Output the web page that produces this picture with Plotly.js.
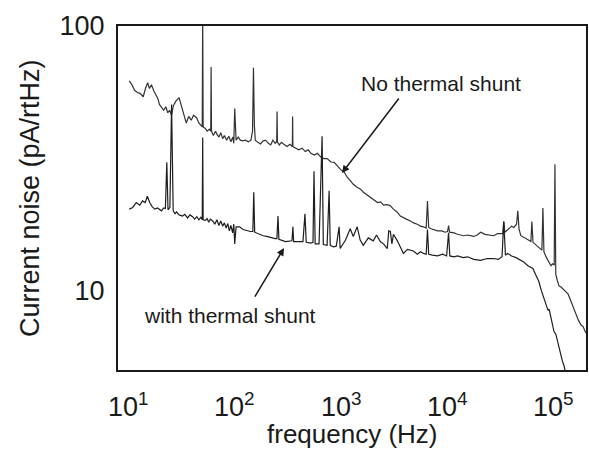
<!DOCTYPE html>
<html>
<head>
<meta charset="utf-8">
<script src="https://cdn.plot.ly/plotly-3.0.1.min.js"></script>
<style>html,body{margin:0;padding:0;background:#fff;}#chart{width:589px;height:450px;}</style>
</head>
<body>
<div id="chart"></div>
<script>
// "No thermal shunt" curve
const noShuntFreq = [10.2,10.8,11.5,12.2,13,13.8,14.5,15.2,15.8,16.5,17.3,18,19,19.6,20.5,21.5,22.5,23.5,24.5,25.5,26.5,28,30,31.5,33,35,37,39,41,43.8,46,48,49.5,50,50.5,53,55,58,59.5,60,60.5,63,66,68,71,74,77,80,84,88,92,96,98,100,101,103,108,113,119,126,134,142,147,150,153,156,165,175,184,195,207,218,228,240,248,250,252,262,275,290,310,330,348,350,352,375,400,430,460,490,520,560,600,640,690,740,800,860,930,1000,1070,1140,1220,1300,1400,1510,1620,1750,1880,2000,2200,2350,2500,2700,2900,3100,3350,3600,3850,4100,4480,4800,5200,5570,5940,6300,6475,6650,7000,7500,8050,8800,9500,10000,10220,10450,11500,12400,14150,15450,17590,19000,20480,22500,25000,27160,29500,31500,33000,33750,34500,37000,40000,42000,44500,45760,47000,48850,52000,56000,60700,62000,63500,67000,72000,77000,78700,80500,85000,89000,93700,97000,100500,102100,104000,107500,111400,116400,122000,128000,135500,144500,152000,161400,170000,179800,188000,196000,200000];
const noShuntNoise = [62,60,57,56,55.5,54,58,61,58,60,57,55,53,50.5,49,48,49.5,47,48,46,50,52,53.6,50,46,43,45.5,44,46,45,43,42,41.5,110,41.5,41,40,40.7,40,70,40,38.5,40,39,38,39.5,37.5,38.5,37,38.3,36.5,38,36,48.7,41,37,38,37,36.8,37,36.5,37,40,69.5,42,37,36.3,35.8,36.7,37,36,35.5,37,36,36.5,47.5,36.5,35.5,36.3,35.7,35,35.7,35,45.5,35,34.5,34,34.5,33.5,34,33,32.5,33,32,31.5,31.5,30.6,30.5,29.5,28.5,28,26.8,26,25.2,24.6,24.2,23.5,23,22.5,22.2,21.5,21.6,21,21.1,20.9,20.3,19.8,19.1,18.8,18.6,18.3,18,17.8,17.5,17.4,17.2,21.8,17.3,17.1,16.9,16.8,16.8,16.6,16.7,17.6,16.6,16.5,16.3,16.1,16.2,16.0,16.2,16.6,16.3,16.2,16.1,16.4,16.4,16.4,18.2,16.6,17,17.5,17.3,17.8,20,17,16.1,15.9,15.6,15.3,18.2,15.2,14.9,14.5,14.2,20.5,14.0,13.3,12.8,12.4,12.6,12.5,30,11.5,10.9,10.4,10.3,10.1,9.9,9.7,9.1,8.6,8.05,7.7,7.4,7.3,7.0,6.9];

// "with thermal shunt" curve
const shuntFreq = [10.2,11,11.9,12.8,13.6,14.4,15.1,15.9,16.8,17.8,18.8,19.6,20.5,21.5,22.3,23,23.6,24.6,25.5,26.4,27.5,28.4,30,32.3,34,36,38,40.2,42,44,46,48,49.5,50,50.5,53,55,57,59,62,65,68,71,74,77,80,83,86,89,92,95.7,98,100,103,111,120,130,140,148,151,154,170,185,200,220,240,249,255,260,280,300,345,352,358,400,438,457,470,520,544,556,570,620,662,680,738,771,790,850,900,957,979,1100,1217,1300,1415,1510,1614,1800,2005,2150,2334,2500,2716,2800,2900,3000,3100,3375,3600,3845,4200,4779,5200,5565,5940,6300,6475,6650,7200,8050,9000,9800,10220,10500,11500,12420,14000,15450,17590,20480,23500,27160,30000,32500,33750,35000,36800,40000,44000,48850,52000,56880,63400,67000,72100,76000,80500,85000,88000,90000,93700,97900,100000,104400,110000,116400,120000,124200,130000];
const shuntNoise = [20.3,20.6,21.5,21,21.8,21.5,22.7,21.5,20.7,20.3,20.5,20.3,20,20.5,20.4,30.5,20.2,20.6,50.5,20,19.5,19.8,19.3,19.1,19.4,18.8,19.3,19,18.6,19,18.5,18.9,18.5,37.9,18.5,18.4,18.7,18.1,18.6,18.3,17.8,18.5,17.6,18.3,17.5,18,17.2,17.9,16.8,17.6,16.5,17.8,15,17.4,17.4,17,16.8,16.7,16.7,23.5,16.6,16.3,16.1,16.0,15.8,15.7,15.7,19.1,15.6,15.4,15.3,15.4,17.4,15.3,15.3,15.3,19.5,15.2,15.1,15.2,28.2,15,15,38.3,14.9,14.8,23.8,14.8,14.6,14.7,17.4,14.4,15.5,17.1,16,17.4,15.5,14.8,15.8,15.4,16.2,15.3,15,14.4,16.8,16.7,15,16.3,15.4,14.6,13.8,14.3,14.1,13.7,14,13.8,13.7,17,13.7,13.6,13.5,13.7,13.5,16.5,13.5,13.4,13.5,13.3,13.4,13.1,13.0,13.2,13.2,13.1,13.4,18.2,13.6,13.8,13.5,13.3,13.0,12.8,12.4,12.1,11.5,10.8,10.0,9.3,8.6,8.4,8.5,7.9,7.4,7.0,6.8,6.2,5.7,5.4,5.2,4.8];

const xTickVals = [10, 100, 1000, 10000, 100000];
const xTickText = ['10<sup>1</sup>', '10<sup>2</sup>', '10<sup>3</sup>', '10<sup>4</sup>', '10<sup>5</sup>'];
const yTickVals = [10, 100];
const yTickText = ['10', '100'];
const minorMultipliers = [2, 3, 4, 5, 6, 7, 8, 9];
const xTitle = 'frequency (Hz)';
const yTitle = 'Current noise (pA/rtHz)';

const FONT = 'Liberation Sans, Arial, Helvetica, sans-serif';
const INK = '#1a1a1a';
const X_RANGE = [Math.log10(8), Math.log10(200000)];
const Y_RANGE = [Math.log10(5), 2];

const traces = [
  {x: noShuntFreq, y: noShuntNoise, type: 'scatter', mode: 'lines',
   line: {color: '#333', width: 1.2}, showlegend: false},
  {x: shuntFreq, y: shuntNoise, type: 'scatter', mode: 'lines',
   line: {color: '#1e1e1e', width: 1.2}, showlegend: false}
];

// tick positions (log10 units), strictly inside the axis ranges
const inside = (lv, r) => lv > r[0] + 1e-6 && lv < r[1] - 1e-6;
const xMinorLog = [], yMinorLog = [];
[1, 10, 100, 1000, 10000, 100000].forEach(d => minorMultipliers.forEach(m => {
  const lv = Math.log10(m * d); if (inside(lv, X_RANGE)) xMinorLog.push(lv);
}));
[1, 10].forEach(d => minorMultipliers.forEach(m => {
  const lv = Math.log10(m * d); if (inside(lv, Y_RANGE)) yMinorLog.push(lv);
}));
const xMajorLog = xTickVals.map(Math.log10).filter(lv => inside(lv, X_RANGE));
const yMajorLog = yTickVals.map(Math.log10).filter(lv => inside(lv, Y_RANGE));

// inward tick marks on all four sides of the frame
const tickShapes = [];
const addX = (lv, len, w) => {
  tickShapes.push({type: 'line', xref: 'x', yref: 'paper', ysizemode: 'pixel', yanchor: 0,
    x0: lv, x1: lv, y0: 0, y1: len, line: {color: INK, width: w}, layer: 'above'});
  tickShapes.push({type: 'line', xref: 'x', yref: 'paper', ysizemode: 'pixel', yanchor: 1,
    x0: lv, x1: lv, y0: 0, y1: -len, line: {color: INK, width: w}, layer: 'above'});
};
const addY = (lv, len, w) => {
  tickShapes.push({type: 'line', xref: 'paper', yref: 'y', xsizemode: 'pixel', xanchor: 0,
    x0: 0, x1: len, y0: lv, y1: lv, line: {color: INK, width: w}, layer: 'above'});
  tickShapes.push({type: 'line', xref: 'paper', yref: 'y', xsizemode: 'pixel', xanchor: 1,
    x0: 0, x1: -len, y0: lv, y1: lv, line: {color: INK, width: w}, layer: 'above'});
};
xMajorLog.forEach(lv => addX(lv, 12, 1.5));
xMinorLog.forEach(lv => addX(lv, 6, 1.2));
yMajorLog.forEach(lv => addY(lv, 12, 1.5));
yMinorLog.forEach(lv => addY(lv, 6, 1.2));

const axisCommon = {
  type: 'log', showgrid: false, zeroline: false,
  showline: true, linecolor: INK, linewidth: 2, mirror: true,
  ticks: '', tickfont: {family: FONT, size: 27, color: INK},
  tickmode: 'array'
};

// x tick labels placed a little lower than Plotly's default, as in the reference
const xLabelAnnotations = xTickVals.map((v, i) => ({
  x: Math.log10(v), y: 0, xref: 'x', yref: 'paper', yanchor: 'top', yshift: -16,
  showarrow: false, text: xTickText[i], font: {family: FONT, size: 27, color: INK}
}));

const layout = {
  width: 589, height: 450,
  margin: {l: 118, r: 3, t: 26, b: 80},
  xaxis: Object.assign({}, axisCommon, {
    range: X_RANGE, tickvals: xTickVals, ticktext: xTickText, showticklabels: false
  }),
  yaxis: Object.assign({}, axisCommon, {
    range: Y_RANGE, tickvals: yTickVals, ticktext: yTickText, ticklabelstandoff: 6
  }),
  shapes: tickShapes,
  annotations: xLabelAnnotations.concat([
    {x: 0.5, y: -0.185, xref: 'paper', yref: 'paper', xanchor: 'center', yanchor: 'middle',
     showarrow: false, text: xTitle, font: {family: FONT, size: 26, color: INK}},
    {x: -0.188, y: 0.5, xref: 'paper', yref: 'paper', xanchor: 'center', yanchor: 'middle',
     textangle: -90, showarrow: false, text: yTitle, font: {family: FONT, size: 27, color: INK}},
    {x: 3.008, y: 1.444, xref: 'x', yref: 'y', ax: 58, ay: -76, showarrow: true,
     arrowhead: 2, arrowsize: 1, arrowwidth: 1.5, arrowcolor: INK, text: ''},
    {x: 3.939, y: 1.784, xref: 'x', yref: 'y', showarrow: false, text: 'No thermal shunt',
     font: {family: FONT, size: 21, color: INK}},
    {x: 2.463, y: 1.160, xref: 'x', yref: 'y', ax: -30, ay: 50, showarrow: true,
     arrowhead: 2, arrowsize: 1, arrowwidth: 1.5, arrowcolor: INK, text: ''},
    {x: 1.956, y: 0.907, xref: 'x', yref: 'y', showarrow: false, text: 'with thermal shunt',
     font: {family: FONT, size: 21, color: INK}}
  ])
};

Plotly.newPlot('chart', traces, layout, {staticPlot: true});
</script>
</body>
</html>
